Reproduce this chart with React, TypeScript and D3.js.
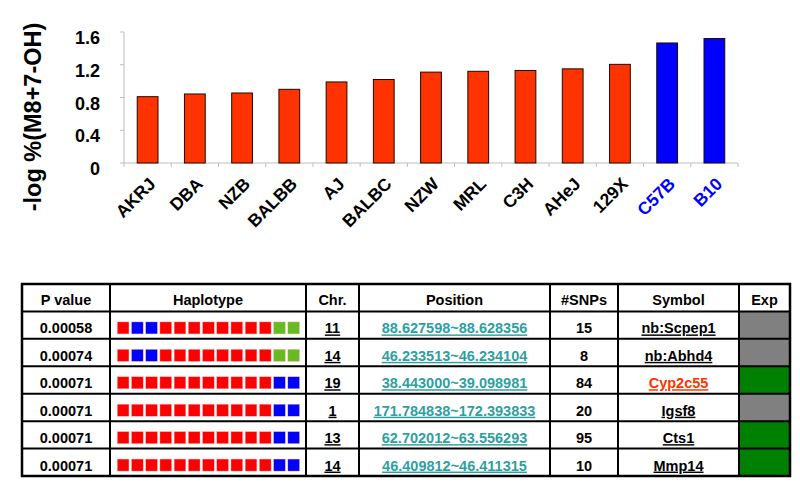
import React from "react";
import * as d3 from "d3";

const strains = ["AKRJ", "DBA", "NZB", "BALBB", "AJ", "BALBC", "NZW", "MRL", "C3H", "AHeJ", "129X", "C57B", "B10"];
const values = [0.81, 0.843, 0.855, 0.9, 0.99, 1.02, 1.11, 1.12, 1.13, 1.15, 1.205, 1.466, 1.52];
const highlighted = ["C57B", "B10"];
const yTicks = [0, 0.4, 0.8, 1.2, 1.6];

const headers = ["P value", "Haplotype", "Chr.", "Position", "#SNPs", "Symbol", "Exp"];
const pValues = ["0.00058", "0.00074", "0.00071", "0.00071", "0.00071", "0.00071"];
const haplotypes = [
  "RBBRRRRRRRRGG",
  "RBBRRRRRRRRGG",
  "RRRRRRRRRRRBB",
  "RRRRRRRRRRRBB",
  "RRRRRRRRRRRBB",
  "RRRRRRRRRRRBB",
];
const chrs = ["11", "14", "19", "1", "13", "14"];
const positions = [
  "88.627598~88.628356",
  "46.233513~46.234104",
  "38.443000~39.098981",
  "171.784838~172.393833",
  "62.702012~63.556293",
  "46.409812~46.411315",
];
const snps = ["15", "8", "84", "20", "95", "10"];
const symbols = ["nb:Scpep1", "nb:Abhd4", "Cyp2c55", "Igsf8", "Cts1", "Mmp14"];
const symbolHighlight = ["Cyp2c55"];
const expression = ["none", "none", "yes", "none", "yes", "yes"];

const FONT = "'Liberation Sans', Arial, sans-serif";
const colEdges = [22, 110, 306, 359, 550, 618, 739, 790];
const hapColors: Record<string, string> = { R: "#ff0000", B: "#0000ff", G: "#66bb22" };

export default function App() {
  const x = d3.scaleBand<string>().domain(strains).range([124, 738]).paddingInner(0.56).paddingOuter(0.28);
  const y = d3.scaleLinear().domain([0, 1.6]).range([163, 32]);
  const step = x.step();
  const rowY = d3.scaleLinear().domain([0, 7]).range([284, 476]);
  const sq = d3.scaleBand<number>().domain(d3.range(13)).range([117.3, 299.5]).paddingInner(0.18).paddingOuter(0);

  const rows = d3.range(6);
  const cellCenter = (c: number) => (colEdges[c] + colEdges[c + 1]) / 2;
  const TS = 14.5;

  return (
    <div style={{ position: "absolute", left: 0, top: 0 }}>
      <svg width={800} height={485} style={{ display: "block", background: "#fff" }} fontFamily={FONT}>
        <text
          transform={`translate(41,117) rotate(-90)`}
          textAnchor="middle"
          fontSize={23.5}
          fontWeight="bold"
          fill="#000"
        >
          -log %(M8+7-OH)
        </text>
        <line x1={124} x2={124} y1={y(1.6)} y2={y(0)} stroke="#bdbdbd" strokeWidth={1} />
        {yTicks.map((t) => (
          <g key={t}>
            <line x1={120} x2={124} y1={y(t)} y2={y(t)} stroke="#bdbdbd" />
            <text x={100} y={y(t) + 12} textAnchor="end" fontSize={18} fontWeight="bold">
              {String(+t.toFixed(1))}
            </text>
          </g>
        ))}
        <line x1={124} x2={738} y1={y(0)} y2={y(0)} stroke="#bdbdbd" />
        {d3.range(strains.length + 1).map((i) => (
          <line key={i} x1={124 + i * step} x2={124 + i * step} y1={y(0)} y2={y(0) + 4} stroke="#bdbdbd" />
        ))}
        {strains.map((s, i) => (
          <rect
            key={s}
            x={x(s)}
            y={y(values[i])}
            width={x.bandwidth()}
            height={y(0) - y(values[i])}
            fill={highlighted.includes(s) ? "#0000ff" : "#ff3300"}
            stroke="#220800"
            strokeWidth={1}
          />
        ))}
        {strains.map((s) => {
          const cx = (x(s) as number) + x.bandwidth() / 2;
          return (
            <text
              key={s}
              transform={`translate(${cx + 9},${185}) rotate(-45)`}
              textAnchor="end"
              fontSize={17.5}
              fontWeight="bold"
              fill={highlighted.includes(s) ? "#0000ff" : "#000"}
            >
              {s}
            </text>
          );
        })}

        {rows.map((r) => (
          <rect
            key={"e" + r}
            x={colEdges[6]}
            y={rowY(r + 1)}
            width={colEdges[7] - colEdges[6]}
            height={rowY(r + 2) - rowY(r + 1)}
            fill={expression[r] === "yes" ? "#008000" : "#808080"}
          />
        ))}
        {headers.map((h, c) => (
          <text key={h} x={cellCenter(c)} y={rowY(0) + 21} textAnchor="middle" fontSize={TS} fontWeight="bold">
            {h}
          </text>
        ))}
        {rows.map((r) => {
          const base = rowY(r + 1) + 22;
          return (
            <g key={"r" + r}>
              <text x={cellCenter(0)} y={base} textAnchor="middle" fontSize={TS} fontWeight="bold">
                {pValues[r]}
              </text>
              {haplotypes[r].split("").map((h, k) => (
                <rect
                  key={k}
                  x={sq(k)}
                  y={rowY(r + 1) + 10.5}
                  width={sq.bandwidth()}
                  height={12}
                  fill={hapColors[h]}
                  stroke="#ffb0b0"
                  strokeWidth={0.4}
                />
              ))}
              <text x={cellCenter(2)} y={base} textAnchor="middle" fontSize={TS} fontWeight="bold" textDecoration="underline">
                {chrs[r]}
              </text>
              <text
                x={cellCenter(3)}
                y={base}
                textAnchor="middle"
                fontSize={TS}
                fontWeight="bold"
                fill="#2f9f9f"
                textDecoration="underline"
              >
                {positions[r]}
              </text>
              <text x={cellCenter(4)} y={base} textAnchor="middle" fontSize={TS} fontWeight="bold">
                {snps[r]}
              </text>
              <text
                x={cellCenter(5)}
                y={base}
                textAnchor="middle"
                fontSize={TS}
                fontWeight="bold"
                fill={symbolHighlight.includes(symbols[r]) ? "#ff3300" : "#000"}
                textDecoration="underline"
              >
                {symbols[r]}
              </text>
            </g>
          );
        })}
        {d3.range(8).map((i) => (
          <line key={"h" + i} x1={colEdges[0]} x2={colEdges[7]} y1={rowY(i)} y2={rowY(i)} stroke="#000" strokeWidth={2} />
        ))}
        {colEdges.map((cx, i) => (
          <line key={"v" + i} x1={cx} x2={cx} y1={rowY(0)} y2={rowY(7)} stroke="#000" strokeWidth={2} />
        ))}
        <rect
          x={colEdges[0]}
          y={rowY(0)}
          width={colEdges[7] - colEdges[0]}
          height={rowY(7) - rowY(0)}
          fill="none"
          stroke="#000"
          strokeWidth={2.5}
        />
      </svg>
    </div>
  );
}
